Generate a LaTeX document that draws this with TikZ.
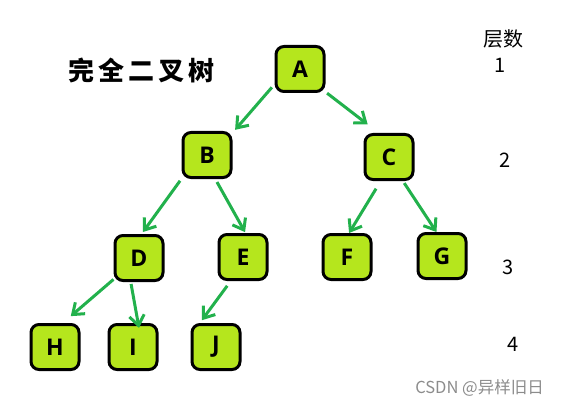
\documentclass[tikz,border=0pt]{standalone}
\usepackage{fontspec}
\setmainfont{Open Sans}
\newfontfamily\cjk{Noto Sans CJK SC}
\usetikzlibrary{arrows.meta}
\definecolor{leaf}{HTML}{B5E61D}
\definecolor{twig}{HTML}{22B14C}
\def\lvfont{\cjk\fontsize{20}{20}\selectfont}

\begin{document}
\begin{tikzpicture}[x=1pt,y=-1pt,
        vertex/.style={draw,line width=3pt,fill=leaf,rounded corners=8pt,
            minimum width=48pt,minimum height=45pt,inner sep=0pt,
            font=\bfseries\fontsize{23}{23}\selectfont},
        link/.style={twig,line width=3pt,-{Straight Barb[length=10pt,width=15pt]}},
        lv/.style={inner sep=0pt,font=\lvfont}]
    \useasboundingbox (0,0) rectangle (561,406);
    \node[vertex] (A) at (300,69) {A};
    \node[vertex] (B) at (207,155) {B};
    \node[vertex] (C) at (389,157) {C};
    \node[vertex] (D) at (139,258) {D};
    \node[vertex] (E) at (243,257) {E};
    \node[vertex] (F) at (347,257) {F};
    \node[vertex] (G) at (442,256) {G};
    \node[vertex] (H) at (55,347) {H};
    \node[vertex] (I) at (133,347) {I};
    \node[vertex] (J) at (216,347) {J};
    \draw[link,shorten <=4pt,shorten >=4pt] (A.211) -- (B.41);
    \draw[link,shorten <=2pt,shorten >=14pt] (A.318) -- (C.113);
    \draw[link,shorten <=2.5pt,shorten >=2.5pt] (B.223) -- (D.84);
    \draw[link,shorten <=3.5pt,shorten >=1pt] (B.289) -- (E.84);
    \draw[link,shorten <=9pt] (C.251) -- (F.85);
    \draw[link,shorten <=2.5pt] (C.300) -- (G.103);
    \draw[link,shorten >=10.5pt] (D.220) -- (H.72);
    \draw[link,shorten <=2pt,shorten >=-5pt] (D.251) -- (I.78);
    \draw[link,shorten <=6pt,shorten >=3.5pt] (E.243) -- (J.124);
    \node[inner sep=0pt,font=\cjk\bfseries\fontsize{26}{26}\selectfont] (title) at (141.5,70)
        {完\kern4pt 全\kern4pt 二\kern4pt 叉\kern4pt 树};
    \node[lv] (head) at (503,39) {层数};
    \node[lv] (lv1) at (500,65) {1};
    \node[lv] (lv2) at (505,160) {2};
    \node[lv] (lv3) at (508,267) {3};
    \node[lv] (lv4) at (513,344) {4};
    \node[inner sep=0pt,text=black!45,font=\cjk\fontsize{16.5}{16.5}\selectfont] (mark) at (479.5,387.5)
        {CSDN @异样旧日};
\end{tikzpicture}
\end{document}
